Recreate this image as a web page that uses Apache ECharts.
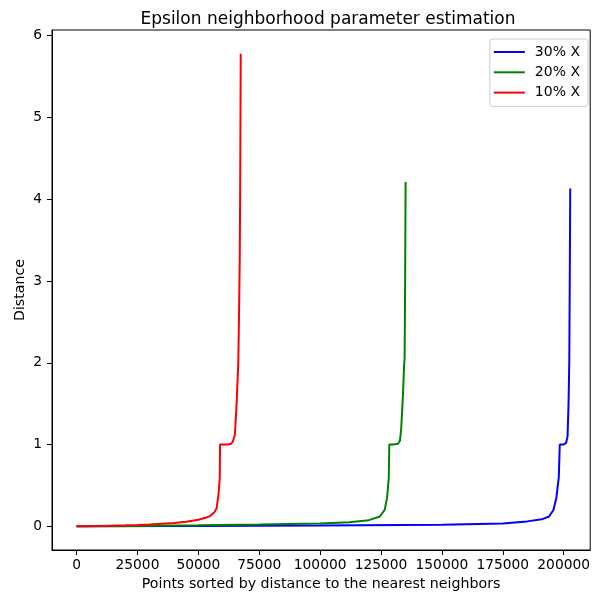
<!DOCTYPE html>
<html>
<head>
<meta charset="utf-8">
<script src="https://cdn.jsdelivr.net/npm/echarts@6/dist/echarts.min.js"></script>
<style>
  html, body { margin: 0; padding: 0; background: #fff; }
  #chart { width: 593px; height: 597px; }
</style>
</head>
<body>
<div id="chart"></div>
<script>
// k-distance curves: sorted distance to the nearest neighbours for three sample sizes
const seriesNames = ['30% X', '20% X', '10% X'];

const x30 = [0, 50000, 100000, 150000, 175000, 185000, 191000, 194000, 195800, 197000, 198000, 198400, 200000, 201000, 201600, 202000, 202300, 202500, 202700];
const y30 = [0, 0.004, 0.01, 0.02, 0.035, 0.06, 0.085, 0.12, 0.2, 0.35, 0.6, 1.0, 1.0, 1.02, 1.1, 1.5, 2.0, 3.0, 4.13];

const x20 = [0, 25000, 50000, 75000, 100000, 112000, 120000, 124500, 126500, 127500, 128200, 128400, 130000, 132000, 132800, 133300, 134000, 134500, 134700, 134900, 135100];
const y20 = [0, 0.005, 0.012, 0.022, 0.035, 0.05, 0.075, 0.12, 0.2, 0.35, 0.6, 1.0, 1.0, 1.01, 1.05, 1.2, 1.6, 1.98, 2.05, 3.0, 4.21];

const x10 = [0, 10000, 20000, 25000, 30000, 40000, 45000, 50000, 53000, 54800, 56500, 57500, 58300, 58800, 58900, 60000, 62000, 63500, 64200, 65000, 65700, 66400, 66700, 67000, 67200, 67400];
const y10 = [0, 0.005, 0.012, 0.016, 0.022, 0.04, 0.055, 0.08, 0.105, 0.125, 0.17, 0.22, 0.4, 0.6, 1.0, 1.0, 1.0, 1.01, 1.04, 1.12, 1.5, 2.0, 2.6, 3.3, 4.3, 5.78];

const xTicks = [0, 25000, 50000, 75000, 100000, 125000, 150000, 175000, 200000];
const yTicks = [0, 1, 2, 3, 4, 5, 6];

const lineColors = ['#0000ff', '#008000', '#ff0000'];

function pairs(xs, ys) {
  return xs.map((x, i) => [x, ys[i]]);
}

const FONT = 'DejaVu Sans';
const chart = echarts.init(document.getElementById('chart'), null, { renderer: 'canvas' });

chart.setOption({
  animation: false,
  color: lineColors,
  title: {
    text: 'Epsilon neighborhood parameter estimation',
    left: 323,
    textAlign: 'center',
    top: 6,
    textStyle: { fontFamily: FONT, fontSize: 17, fontWeight: 'normal', color: '#000' }
  },
  legend: {
    data: seriesNames,
    orient: 'vertical',
    right: 5,
    top: 39,
    icon: 'rect',
    itemWidth: 31,
    itemHeight: 2,
    itemGap: 6.3,
    padding: [6, 8, 7, 4],
    borderColor: '#cccccc',
    borderWidth: 1,
    borderRadius: 3,
    backgroundColor: '#ffffff',
    textStyle: { fontFamily: FONT, fontSize: 14, color: '#000', lineHeight: 14, padding: [0, 0, 0, 5] }
  },
  grid: {
    left: 52, right: 2, top: 30, bottom: 47,
    show: true,
    borderColor: '#000',
    borderWidth: 1,
    containLabel: false
  },
  xAxis: {
    type: 'value',
    min: -10100,
    max: 210900,
    name: 'Points sorted by distance to the nearest neighbors',
    nameLocation: 'middle',
    nameGap: 27,
    nameTextStyle: { fontFamily: FONT, fontSize: 14.2, color: '#000' },
    axisLine: { show: true, onZero: false, lineStyle: { color: '#000', width: 1 } },
    axisTick: { show: true, length: 5, customValues: xTicks, lineStyle: { color: '#000' } },
    axisLabel: { customValues: xTicks, margin: 8, fontFamily: FONT, fontSize: 13.8, color: '#000', formatter: v => String(v) },
    splitLine: { show: false }
  },
  yAxis: {
    type: 'value',
    min: -0.29,
    max: 6.07,
    name: 'Distance',
    nameLocation: 'middle',
    nameGap: 25,
    nameRotate: 90,
    nameMoveOverlap: false,
    nameTextStyle: { fontFamily: FONT, fontSize: 14.2, color: '#000' },
    axisLine: { show: true, onZero: false, lineStyle: { color: '#000', width: 1 } },
    axisTick: { show: true, length: 5, customValues: yTicks, lineStyle: { color: '#000' } },
    axisLabel: { customValues: yTicks, margin: 10, fontFamily: FONT, fontSize: 13.8, color: '#000', formatter: v => String(v) },
    splitLine: { show: false }
  },
  series: [
    { name: seriesNames[0], type: 'line', data: pairs(x30, y30), showSymbol: false, symbol: 'none', lineStyle: { width: 2, color: lineColors[0] }, itemStyle: { color: lineColors[0] } },
    { name: seriesNames[1], type: 'line', data: pairs(x20, y20), showSymbol: false, symbol: 'none', lineStyle: { width: 2, color: lineColors[1] }, itemStyle: { color: lineColors[1] } },
    { name: seriesNames[2], type: 'line', data: pairs(x10, y10), showSymbol: false, symbol: 'none', lineStyle: { width: 2, color: lineColors[2] }, itemStyle: { color: lineColors[2] } }
  ]
});
</script>
</body>
</html>
